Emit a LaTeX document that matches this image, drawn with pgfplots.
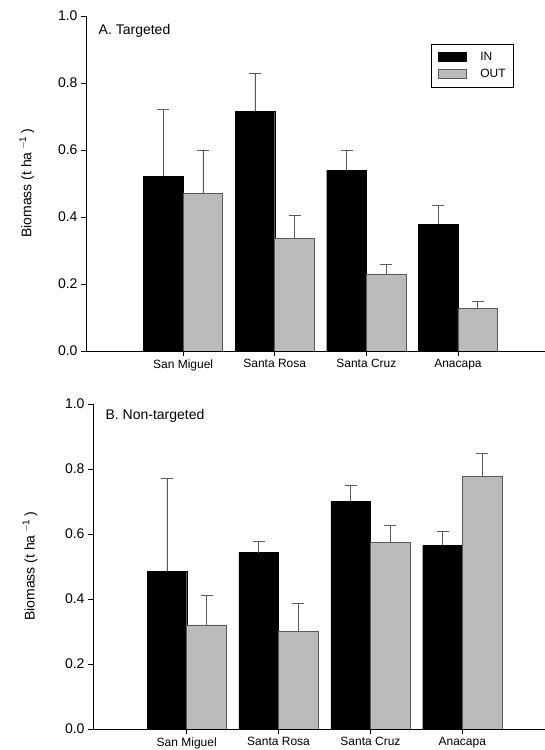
\documentclass[border=0pt]{standalone}
\usepackage{pgfplots}
\pgfplotsset{compat=1.18}
\usepackage{fontspec}
\setmainfont{Liberation Sans}
\definecolor{grayb}{HTML}{BBBBBB}
\pgfplotsset{
  common/.style={
    scale only axis, width=452pt, height=335pt,
    ymin=0, ymax=1.0, ytick={0,0.2,...,1.0},
    /pgf/number format/assume math mode=true,
    /pgf/number format/fixed, /pgf/number format/fixed zerofill, /pgf/number format/precision=1,
    yticklabel style={font=\fontsize{14}{16}\selectfont},
    xticklabel style={font=\fontsize{12}{14}\selectfont},
    axis x line=bottom, axis y line=left, axis line style={-, line width=0.8pt},
    tick style={line width=0.8pt, black}, tick align=outside, major tick length=5pt,
    xtick={0,1,2,3}, xticklabels={San Miguel,Santa Rosa,Santa Cruz,Anacapa},
    ybar, bar width=39.6pt, bar shift=0pt,
    ylabel={Biomass (t ha\,$^{\mathrm{-1}}$\,)},
    ylabel style={font=\fontsize{14}{16}\selectfont},
    error bars/y dir=plus, error bars/y explicit,
    error bars/error bar style={line width=0.7pt, gray!70!black},
    error bars/error mark options={rotate=90, mark size=6pt, line width=0.7pt, gray!70!black},
  },
  inbar/.style={fill=black, draw=black, bar shift=-19.8pt},
  outbar/.style={fill=grayb, draw=gray!70!black, line width=0.6pt, bar shift=19.8pt},
}
\begin{document}
\begin{tikzpicture}[x=1pt,y=1pt]
\useasboundingbox (0,0) rectangle (545,750);
\begin{axis}[common, at={(86pt,399pt)}, width=459pt, xmin=-1.06, xmax=3.95,
  ylabel style={at={(axis description cs:-0.105,0.5)}},
  legend style={at={(rel axis cs:0.752,0.916)}, anchor=north west, draw=black, line width=0.8pt,
    font=\fontsize{12}{14}\selectfont, inner xsep=6pt, inner ysep=6pt, row sep=3pt, column sep=12pt},
  legend cell align=left,
  legend image code/.code={\draw[#1] (-14pt,-4pt) rectangle (14pt,5pt);}]
\addplot[inbar] coordinates {(0,0.522) +- (0,0.198) (1,0.715) +- (0,0.115) (2,0.540) +- (0,0.060) (3,0.378) +- (0,0.058)};
\addplot[outbar] coordinates {(0,0.470) +- (0,0.130) (1,0.337) +- (0,0.068) (2,0.230) +- (0,0.030) (3,0.127) +- (0,0.021)};
\legend{IN,OUT}
\node[anchor=west, font=\fontsize{14}{16}\selectfont] at (rel axis cs:0.02,0.955) {A. Targeted};
\end{axis}
\begin{axis}[common, at={(93pt,21pt)}, width=452pt, height=325pt, xmin=-1.02, xmax=3.9,
  ylabel style={at={(axis description cs:-0.115,0.5)}}]
\addplot[inbar] coordinates {(0,0.485) +- (0,0.285) (1,0.543) +- (0,0.035) (2,0.700) +- (0,0.050) (3,0.565) +- (0,0.042)};
\addplot[outbar] coordinates {(0,0.320) +- (0,0.090) (1,0.300) +- (0,0.086) (2,0.573) +- (0,0.055) (3,0.778) +- (0,0.070)};
\node[anchor=west, font=\fontsize{14}{16}\selectfont] at (rel axis cs:0.02,0.962) {B. Non-targeted};
\end{axis}
\end{tikzpicture}
\end{document}
